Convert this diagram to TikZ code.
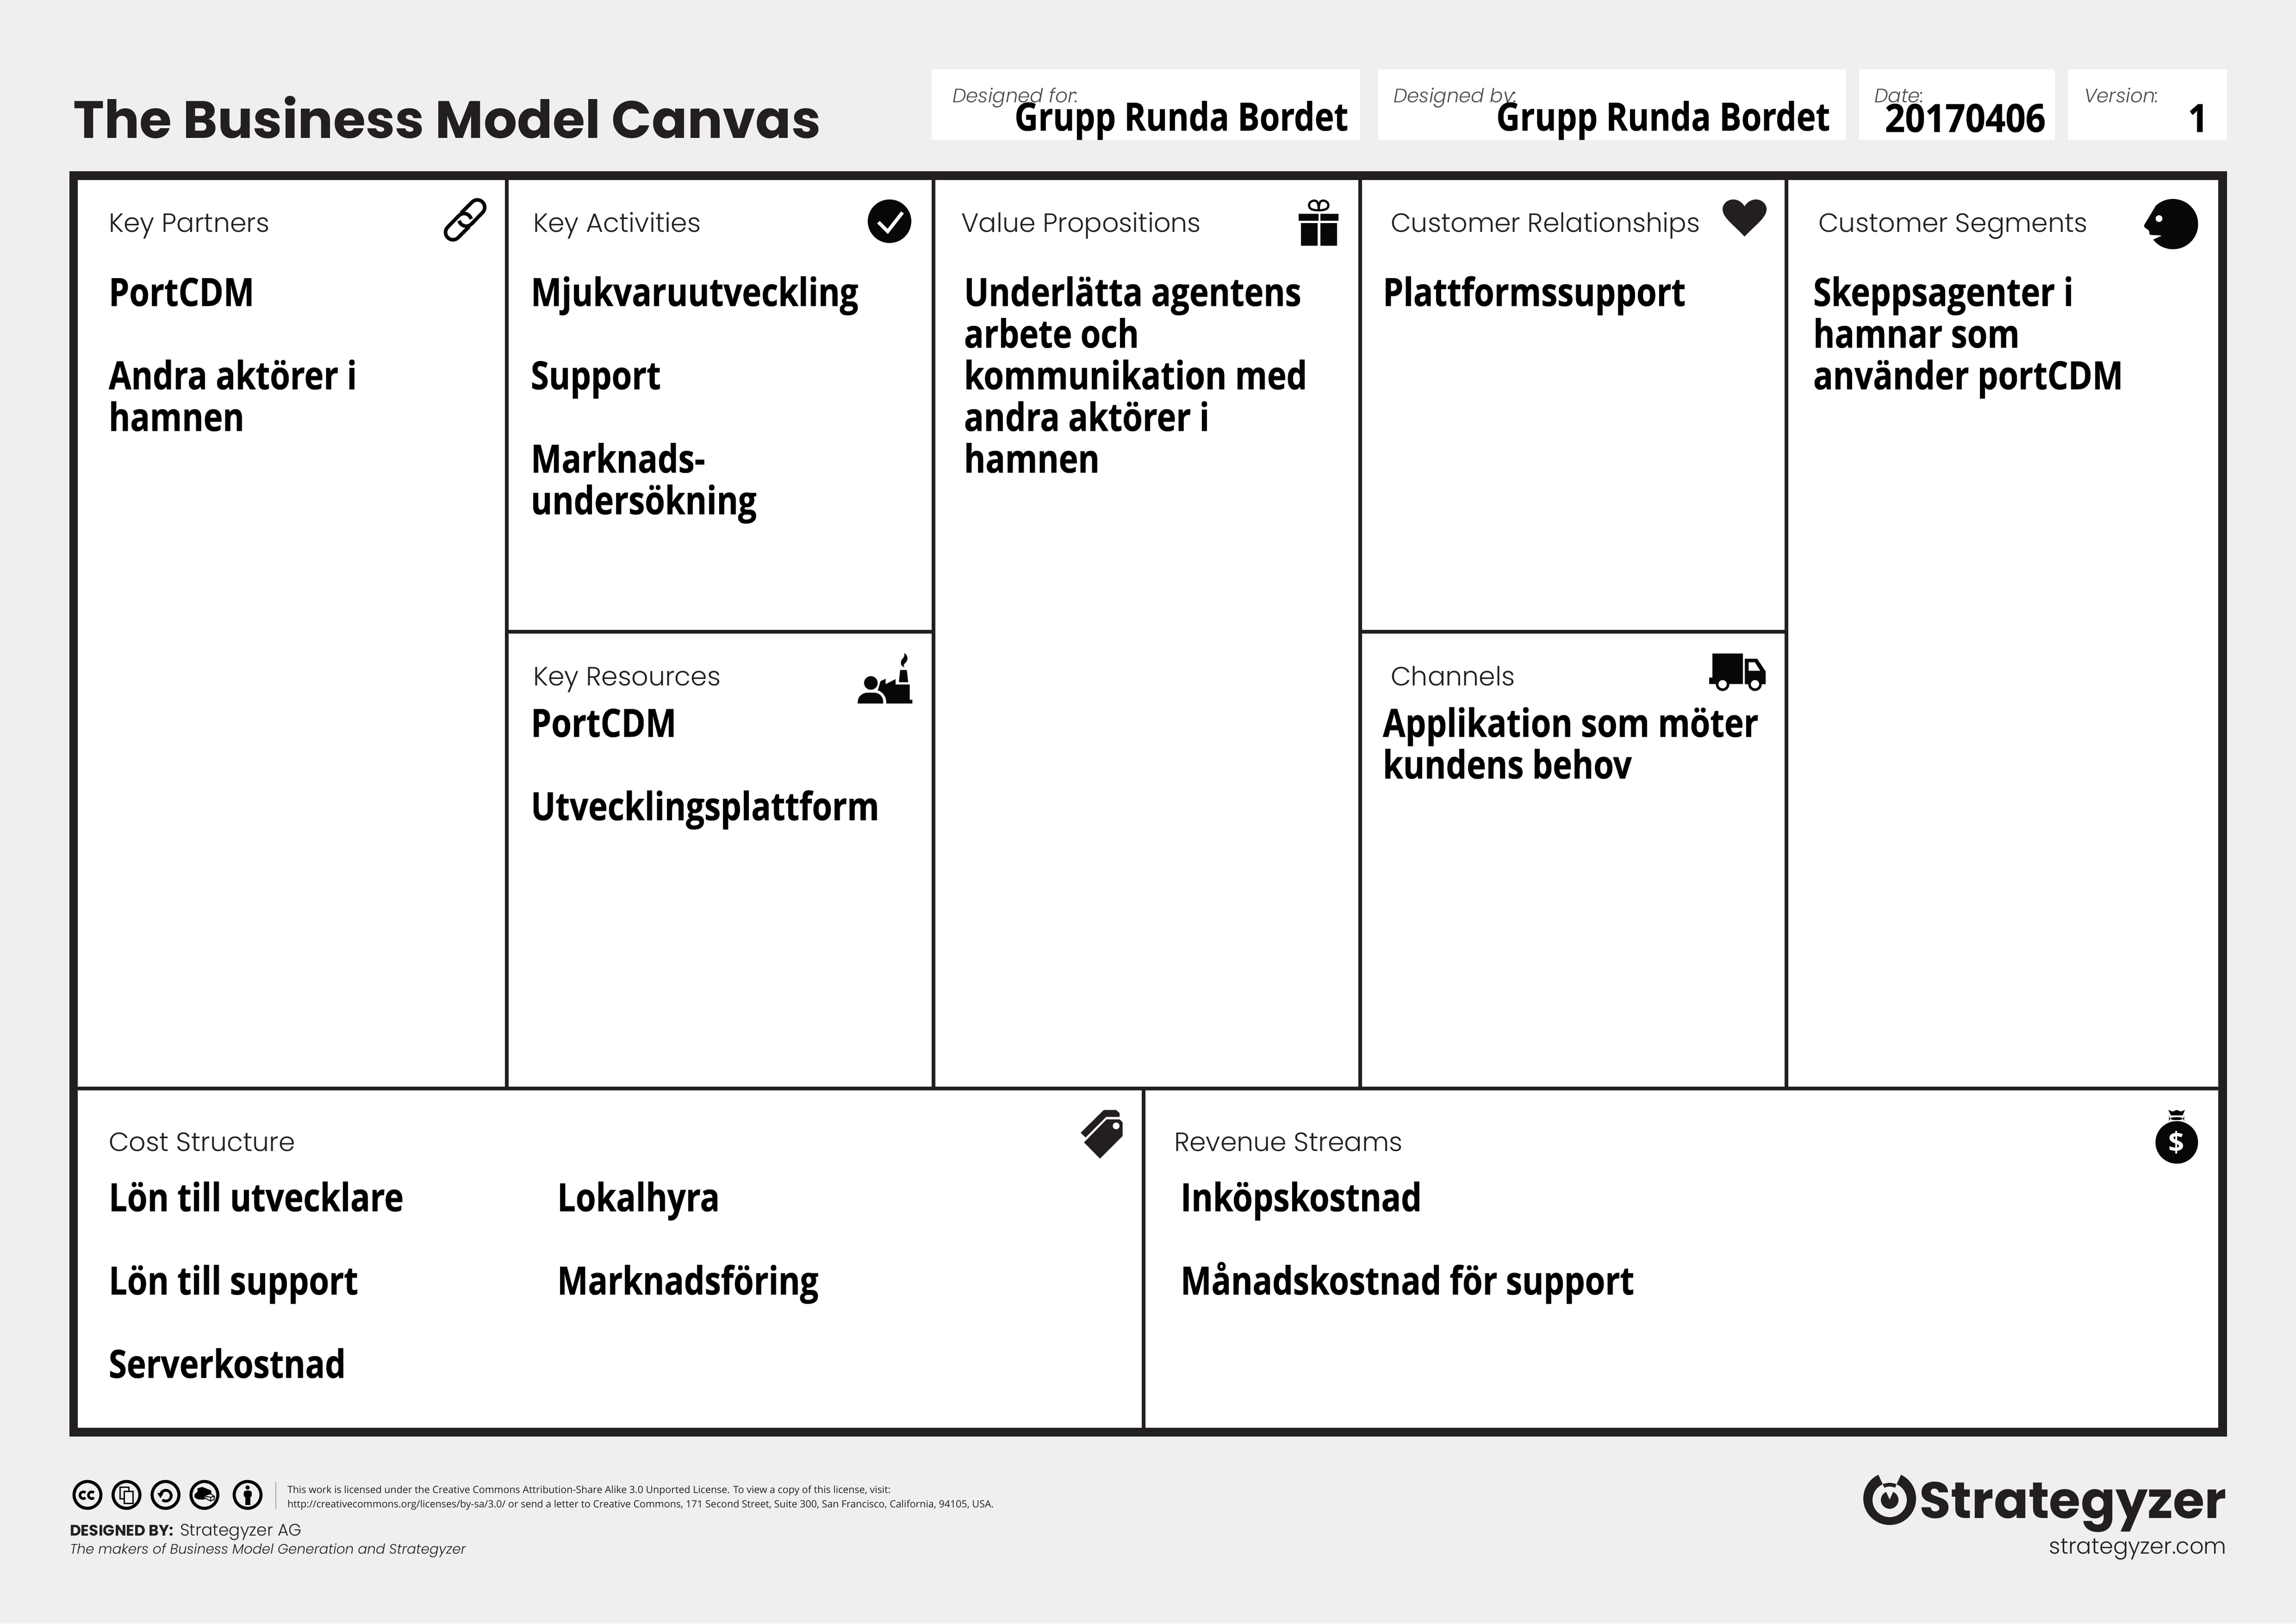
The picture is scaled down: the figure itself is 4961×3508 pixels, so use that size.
\documentclass[tikz,border=0pt]{standalone}
\usepackage{fontspec}
\setmainfont{Open Sans}
\newfontfamily\bodyf[FakeStretch=0.84,FakeBold=0.6]{Open Sans}
\newfontfamily\digitf[FakeStretch=0.905,FakeBold=0.6]{Open Sans}
\newfontfamily\labelf{Poppins Light}
\newfontfamily\titlef{Poppins}
\definecolor{pagebg}{HTML}{EFEFEF}
\definecolor{ink}{HTML}{231F20}
\definecolor{icon}{HTML}{050708}
\tikzset{
  body/.style={anchor=base west,inner sep=0pt,align=left,font=\fontsize{16.8}{18}\selectfont\lineskiplimit -20pt \bodyf\bfseries,text=black},
  panel/.style={anchor=base west,inner sep=0pt,font=\fontsize{11.4}{14}\selectfont\labelf,text=ink},
  hlabel/.style={anchor=base west,inner sep=0pt,font=\fontsize{8.4}{10}\selectfont\labelf\itshape,text=ink!80},
  hval/.style={anchor=base east,inner sep=0pt,font=\fontsize{16.8}{18}\selectfont\bodyf\bfseries,text=black},
  divider/.style={ink,line width=1.5pt},
  ic/.style={fill=icon,draw=none},
  lic/.style={anchor=base west,inner sep=0pt,font=\fontsize{4.28}{5}\selectfont,text=ink},
  ccring/.style={draw=black,line width=1.33pt,fill=none},
  zoomed/.style={shift={(#1)},scale=1/3},
}
\begin{document}
\begin{tikzpicture}[x=0.2pt,y=-0.2pt]
\useasboundingbox (0,0) rectangle (4961,3508);
\fill[pagebg] (0,0) rectangle (4961,3508);
% header boxes
\fill[white] (2013,150) rectangle (2939,302);
\fill[white] (2978,150) rectangle (3989,302);
\fill[white] (4017,150) rectangle (4440,302);
\fill[white] (4468,150) rectangle (4812,302);
\node[anchor=base west,inner sep=0pt,font=\fontsize{22.7}{30}\selectfont\titlef\bfseries,text=ink] (title) at (157,298) {The Business Model Canvas};
\node[hlabel] (hfor) at (2057,221) {Designed for:};
\node[hlabel] (hby) at (3010,221) {Designed by:};
\node[hlabel] (hdate) at (4049,221) {Date:};
\node[hlabel] (hver) at (4502,221) {Version:};
\node[hval] (vfor) at (2914,282) {Grupp Runda Bordet};
\node[hval] (vby) at (3955,282) {Grupp Runda Bordet};
\node[hval,font=\fontsize{16.8}{18}\selectfont\digitf\bfseries] (vdate) at (4421,285) {20170406};
\node[hval,font=\fontsize{16.8}{18}\selectfont\digitf\bfseries] (vver) at (4772,285) {1};
% canvas
\fill[ink] (150,370) rectangle (4812,3104);
\fill[white] (168,389) rectangle (4793,3085);
\foreach \x in {1095,2017,2939,3860}{\draw[divider] (\x,389) -- (\x,2352);}
\draw[divider] (168,2352) -- (4793,2352);
\draw[divider] (1095,1365) -- (2017,1365);
\draw[divider] (2939,1365) -- (3860,1365);
\draw[divider] (2471,2352) -- (2471,3085);
% panel labels
\node[panel] (lkp) at (234,501) {Key Partners};
\node[panel] (lka) at (1151,501) {Key Activities};
\node[panel] (lvp) at (2076,501) {Value Propositions};
\node[panel] (lcr) at (3004,501) {Customer Relationships};
\node[panel] (lcs) at (3928,501) {Customer Segments};
\node[panel] (lkr) at (1151,1481) {Key Resources};
\node[panel] (lch) at (3004,1481) {Channels};
\node[panel] (lcost) at (234,2487) {Cost Structure};
\node[panel] (lrev) at (2536,2487) {Revenue Streams};
% panel contents (a node's base is its last line)
\node[body] (tkp) at (234,931) {PortCDM\\[18pt]Andra aktörer i\\hamnen};
\node[body] (tka) at (1146,1111) {Mjukvaruutveckling\\[18pt]Support\\[18pt]Marknads-\\undersökning};
\node[body] (tvp) at (2082,1021) {Underlätta agentens\\arbete och\\kommunikation med\\andra aktörer i\\hamnen};
\node[body] (tcr) at (2987,661) {Plattformssupport};
\node[body] (tcs) at (3917,841) {Skeppsagenter i\\hamnar som\\använder portCDM};
\node[body] (tkr) at (1146,1772) {PortCDM\\[18pt]Utvecklingsplattform};
\node[body] (tch) at (2987,1682) {Applikation som möter\\kundens behov};
\node[body] (tc1) at (234,2977) {Lön till utvecklare\\[18pt]Lön till support\\[18pt]Serverkostnad};
\node[body] (tc2) at (1203,2797) {Lokalhyra\\[18pt]Marknadsföring};
\node[body] (trv) at (2550,2797) {Inköpskostnad\\[18pt]Månadskostnad för support};
% link icon
\begin{scope}[zoomed={950,420}]
 \draw[icon,line width=1.55pt] (138,122) -- (210,50) arc (225:405:48) -- (206,192) arc (45:165:48);
 \draw[icon,line width=1.55pt] (192,208) -- (120,280) arc (45:225:48) -- (124,138) arc (225:345:48);
\end{scope}
% check icon
\fill[icon] (1922,478) circle (47);
\draw[white,line width=1.5pt] (1898,480) -- (1918,500) -- (1950,459);
% gift icon
\begin{scope}[zoomed={2790,420}]
 \draw[icon,line width=0.93pt] (178,103) .. controls (130,103) and (115,90) .. (115,70) .. controls (115,50) and (135,40) .. (150,40) .. controls (170,40) and (178,60) .. (178,103) .. controls (226,103) and (241,90) .. (241,70) .. controls (241,50) and (221,40) .. (206,40) .. controls (186,40) and (178,60) .. (178,103);
 \fill[icon] (48,125) rectangle (178,170);
 \fill[icon] (188,125) rectangle (305,170);
 \fill[icon] (62,186) rectangle (172,332);
 \fill[icon] (188,186) rectangle (297,332);
\end{scope}
% heart icon
\fill[ink] (3769.5,511) .. controls (3745,485) and (3722,470) .. (3722,452) .. controls (3722,440) and (3733,431) .. (3745,431) .. controls (3756,431) and (3765,438) .. (3769.5,446) .. controls (3774,438) and (3783,431) .. (3794,431) .. controls (3806,431) and (3817,440) .. (3817,452) .. controls (3817,470) and (3794,485) .. (3769.5,511) -- cycle;
% face icon
\begin{scope}[zoomed={4620,420}]
 \fill[icon] (97,293) arc (142:-133:163) -- (40,197) -- (38,210) -- (70,235) -- (75,262) -- (155,267) -- cycle;
 \fill[white] (135,157) circle (22);
\end{scope}
% factory icon
\begin{scope}[zoomed={1800,1380}]
 \fill[icon] (245,287) circle (44);
 \fill[icon] (160,420) -- (160,410) .. controls (160,375) and (190,350) .. (225,350) -- (265,350) .. controls (300,350) and (325,375) .. (325,410) -- (325,420) -- cycle;
 \fill[icon] (290,335) -- (308,275) -- (341,260) -- (341,295) -- (405,262) -- (405,297) -- (497,297) -- (497,396) -- (514,396) -- (514,420) -- (345,420) -- (345,410) .. controls (345,380) and (325,345) .. (290,335) -- cycle;
 \fill[icon] (435,203) -- (478,203) -- (487,282) -- (427,282) -- cycle;
 \fill[icon] (460,93) .. controls (485,105) and (490,135) .. (470,155) .. controls (455,170) and (455,175) .. (462,185) .. controls (438,180) and (432,150) .. (450,130) .. controls (465,115) and (465,105) .. (460,93) -- cycle;
\end{scope}
% truck icon
\begin{scope}[zoomed={3650,1380}]
 \fill[icon] (150,97) rectangle (347,295);
 \fill[icon] (130,252) rectangle (150,295);
 \fill[icon] (360,130) -- (440,130) -- (495,212) -- (495,295) -- (360,295) -- cycle;
 \fill[white] (385,153) -- (425,153) -- (460,208) -- (385,208) -- cycle;
 \fill[icon] (216,295) circle (44);
 \fill[icon] (426,295) circle (44);
 \fill[white] (216,295) circle (27);
 \fill[white] (426,295) circle (27);
\end{scope}
% tag icon
\begin{scope}[zoomed={2280,2360}]
 \fill[ink] (315,115) -- (395,115) -- (417,135) -- (417,160) -- (330,160) -- (197,293) -- (165,263) -- cycle;
 \fill[ink] (333,176) -- (417,176) -- (437,196) -- (437,283) -- (290,430) -- (187,325) -- cycle;
 \fill[white] (395,218) circle (22);
\end{scope}
% money icon
\begin{scope}[zoomed={4620,2370}]
 \fill[icon] (250,295) circle (138);
 \fill[icon,rounded corners=2pt] (200,132) rectangle (298,150);
 \fill[icon] (195,85) -- (223,95) -- (250,85) -- (277,95) -- (303,85) -- (288,120) -- (212,120) -- cycle;
\end{scope}
\node[inner sep=0pt,text=white,font=\fontsize{12}{12}\selectfont\bfseries] (dollar) at (4703,2468) {\$};
% licence icons
\begin{scope}[zoomed={150,3190}]
 \foreach \x in {117,370,623,875,1155}{\draw[ccring] (\x,120) circle (87);}
 \draw[black,line width=1.1pt] ([shift={(-50:22)}]90,122) arc (-50:-310:22);
 \draw[black,line width=1.1pt] ([shift={(-50:22)}]145,122) arc (-50:-310:22);
 \draw[black,line width=0.55pt] (328,70) rectangle (385,145);
 \draw[black,line width=0.55pt,fill=pagebg] (355,98) rectangle (412,175);
 \draw[black,line width=1.2pt] ([shift={(195:35)}]625,125) arc (195:490:35);
 \fill[black] (570,108) -- (610,108) -- (590,142) -- cycle;
 \fill[black] (812,115) -- (830,100) -- (830,78) -- (860,68) -- (920,92) -- (920,115) -- (870,125) -- (868,135) -- (880,150) -- (850,150) -- (830,148) -- (810,135) -- cycle;
 \draw[black,line width=0.4pt,fill=pagebg] (868,128) -- (915,112) -- (940,130) -- (938,150) -- (915,160) -- (870,135) -- cycle;
 \draw[black,line width=0.4pt] (915,160) -- (915,135) -- (940,130) (915,135) -- (868,128);
 \fill[black] (1155,72) circle (14);
 \fill[black,rounded corners=1pt] (1130,92) rectangle (1182,137);
 \fill[black] (1140,130) rectangle (1172,185);
\end{scope}
\draw[gray!70,line width=0.3pt] (596,3202) -- (596,3260);
\node[lic] (lic1) at (620,3226) {This work is licensed under the Creative Commons Attribution-Share Alike 3.0 Unported License. To view a copy of this license, visit:};
\node[lic] (lic2) at (620,3257) {http://creativecommons.org/licenses/by-sa/3.0/ or send a letter to Creative Commons, 171 Second Street, Suite 300, San Francisco, California, 94105, USA.};
\node[anchor=base west,inner sep=0pt,font=\fontsize{6.6}{8}\selectfont\titlef\bfseries,text=ink] (dby) at (150,3318) {DESIGNED BY:};
\node[anchor=base west,inner sep=0pt,font=\fontsize{7.2}{8}\selectfont\labelf,text=ink] (dbyn) at (388,3318) {Strategyzer AG};
\node[anchor=base west,inner sep=0pt,font=\fontsize{5.93}{8}\selectfont\labelf\itshape,text=ink] (mak) at (150,3357) {The makers of Business Model Generation and Strategyzer};
% logo
\fill[ink] (4083,3238) circle (57);
\fill[pagebg] (4083,3241) circle (37);
\fill[ink] (4083,3241) circle (19);
\fill[pagebg] (4083,3240) -- (4049,3165) -- (4117,3165) -- cycle;
\begin{scope}
 \clip (4083,3240) -- (4049,3165) -- (4117,3165) -- cycle;
 \fill[ink,even odd rule] (4083,3241) circle (37) (4083,3241) circle (29);
\end{scope}
\node[anchor=base east,inner sep=0pt,font=\fontsize{22.1}{24}\selectfont\titlef\bfseries,text=ink] (logo) at (4812,3280) {Strategyzer};
\node[anchor=base east,inner sep=0pt,font=\fontsize{9.6}{12}\selectfont\labelf,text=ink] (url) at (4812,3357) {strategyzer.com};
\end{tikzpicture}
\end{document}
